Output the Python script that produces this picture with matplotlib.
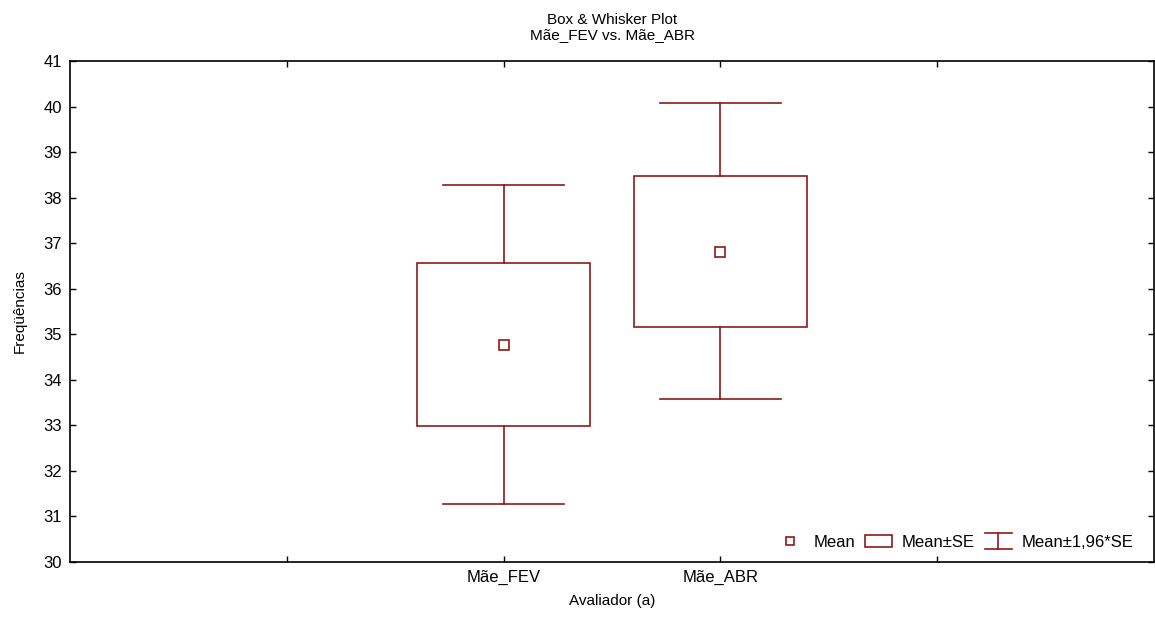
import matplotlib
matplotlib.use("Agg")
import matplotlib.pyplot as plt
from matplotlib.patches import Rectangle
from matplotlib.lines import Line2D
from matplotlib.legend_handler import HandlerBase

plt.rcParams['font.family'] = ['Liberation Sans', 'DejaVu Sans']

# data
groups = ["Mãe_FEV", "Mãe_ABR"]
means = [34.77, 36.81]
se_low = [32.99, 35.17]
se_high = [36.56, 38.48]
ci_low = [31.27, 33.58]
ci_high = [38.28, 40.08]
positions = [2, 3]

RED = '#8b1a1a'
BOX_W = 0.8
CAP_W = 0.56


class IBeamHandler(HandlerBase):
    # whisker symbol: cap, stem, cap
    def create_artists(self, legend, orig_handle, xdescent, ydescent,
                       width, height, fontsize, trans):
        x0, x1 = -xdescent, -xdescent + width
        y0, y1 = -ydescent - 1.5, -ydescent + height + 1.5
        xm = (x0 + x1) / 2
        kw = dict(color=RED, lw=1.2, transform=trans)
        return [Line2D([x0, x1], [y1, y1], **kw),
                Line2D([xm, xm], [y0, y1], **kw),
                Line2D([x0, x1], [y0, y0], **kw)]


fig = plt.figure(figsize=(11.55, 6.21), dpi=100)
ax = fig.add_axes([70 / 1155, 1 - 562 / 621, 1084 / 1155, 501 / 621])

for x, m, lo, hi, wlo, whi in zip(positions, means, se_low, se_high, ci_low, ci_high):
    ax.add_patch(Rectangle((x - BOX_W / 2, lo), BOX_W, hi - lo,
                           fill=False, edgecolor=RED, lw=1.2, zorder=3))
    ax.plot([x, x], [hi, whi], color=RED, lw=1.2, zorder=3)
    ax.plot([x, x], [wlo, lo], color=RED, lw=1.2, zorder=3)
    ax.plot([x - CAP_W / 2, x + CAP_W / 2], [whi, whi], color=RED, lw=1.2, zorder=3)
    ax.plot([x - CAP_W / 2, x + CAP_W / 2], [wlo, wlo], color=RED, lw=1.2, zorder=3)
    ax.plot([x], [m], marker='s', ms=7, mfc='white', mec=RED, mew=1.2, ls='none', zorder=4)

ax.set_xlim(0, 5)
ax.set_ylim(30, 41)
ax.set_xticks([1, 2, 3, 4])
ax.set_xticklabels(["", groups[0], groups[1], ""])
ax.set_yticks(range(30, 42))
ax.tick_params(direction='in', length=4, width=1, labelsize=12,
               top=True, right=True, pad=6)
for s in ax.spines.values():
    s.set_linewidth(1.2)

ax.set_xlabel("Avaliador (a)", fontsize=11, labelpad=6)
ax.set_ylabel("Freqüências", fontsize=11, labelpad=12)
ax.set_title("Box & Whisker Plot\nMãe_FEV vs. Mãe_ABR", fontsize=11, pad=16, linespacing=1.05)

beam = object()
handles = [
    Line2D([], [], marker='s', ms=6, mfc='white', mec=RED, mew=1.2, ls='none'),
    Rectangle((0, 0), 1, 1, fill=False, edgecolor=RED, lw=1.2),
    beam,
]
ax.legend(handles, ["Mean", "Mean±SE", "Mean±1,96*SE"], loc='lower right',
          ncol=3, frameon=False, fontsize=12, handlelength=1.6,
          handletextpad=0.6, columnspacing=0.6, bbox_to_anchor=(0.995, -0.005),
          handler_map={beam: IBeamHandler()})

fig.savefig("out.png", dpi=100)
